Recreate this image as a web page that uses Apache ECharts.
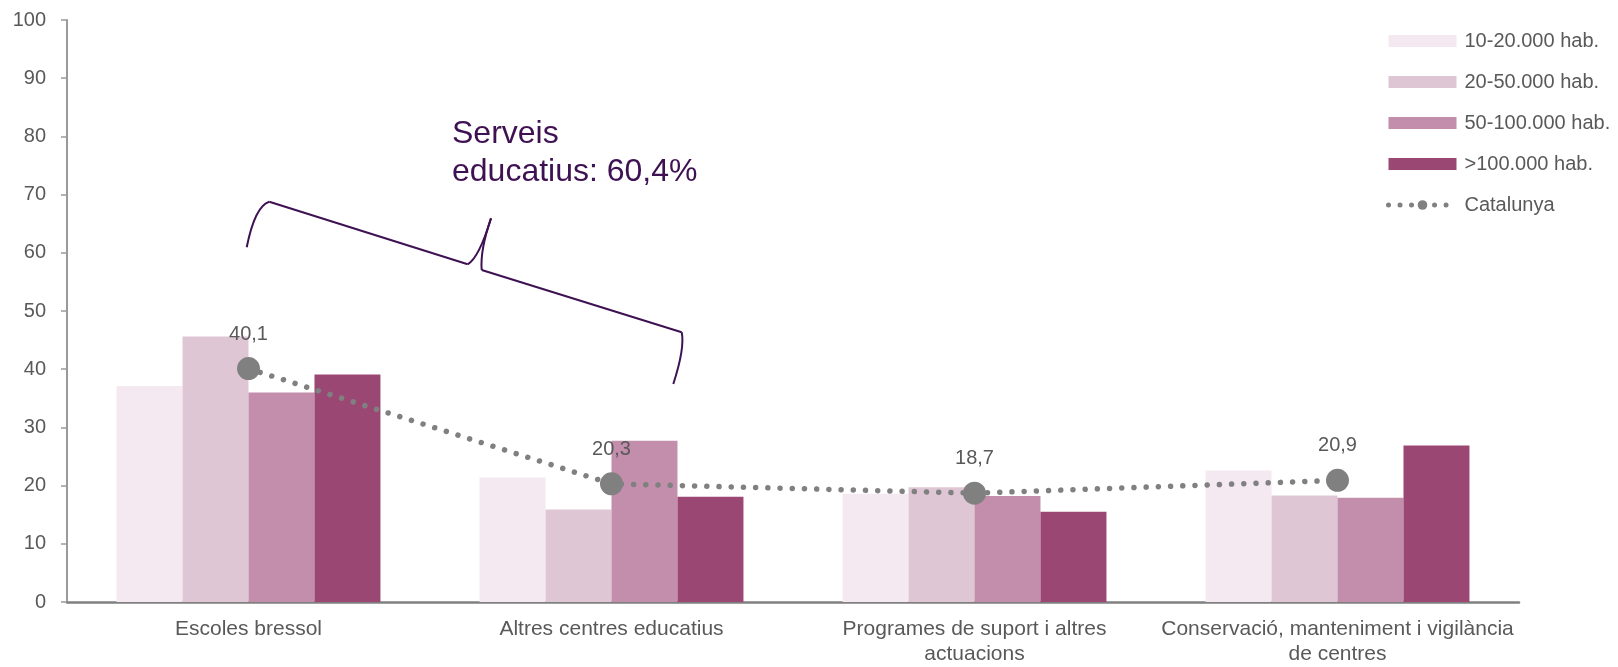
<!DOCTYPE html>
<html>
<head>
<meta charset="utf-8">
<script src="https://cdn.jsdelivr.net/npm/echarts@6/dist/echarts.min.js"></script>
<style>
  html, body { margin: 0; padding: 0; background: #fff; }
  #chart { width: 1618px; height: 667px; }
</style>
</head>
<body>
<div id="chart"></div>
<script>
// categories
var categories = [
  'Escoles bressol',
  'Altres centres educatius',
  'Programes de suport i altres\nactuacions',
  'Conservació, manteniment i vigilància\nde centres'
];
// bars per size of municipality
var hab10_20 = [37.1, 21.4, 18.6, 22.6];
var hab20_50 = [45.6, 15.9, 19.7, 18.3];
var hab50_100 = [36.0, 27.7, 18.2, 17.9];
var hab100 = [39.1, 18.1, 15.5, 26.9];
// Catalunya total
var catalunya = [40.1, 20.3, 18.7, 20.9];

var names = ['10-20.000 hab.', '20-50.000 hab.', '50-100.000 hab.', '>100.000 hab.', 'Catalunya'];
var colors = ['#f4e9f0', '#dfc6d5', '#c28eac', '#9a4873'];

var chart = echarts.init(document.getElementById('chart'));

function barSerie(i, data){
  return {
    name: names[i],
    type: 'bar',
    data: data,
    barGap: '0%',
    barCategoryGap: '27.3%',
    itemStyle: { color: colors[i] }
  };
}

// brace pieces (annotation)
var braceStyle = { stroke: '#3e1152', lineWidth: 2, fill: null };
function curve(x1, y1, cx, cy, x2, y2){
  return { type: 'bezierCurve', z: 10, shape: { x1: x1, y1: y1, cpx1: cx, cpy1: cy, x2: x2, y2: y2 }, style: braceStyle };
}
function seg(x1, y1, x2, y2){
  return { type: 'line', z: 10, shape: { x1: x1, y1: y1, x2: x2, y2: y2 }, style: braceStyle };
}

var option = {
  animation: false,
  textStyle: { fontFamily: 'Liberation Sans, Arial, sans-serif' },
  grid: { left: 67, right: 99, top: 20, bottom: 63 },
  legend: {
    orient: 'vertical',
    left: 1381,
    top: 26,
    itemWidth: 68,
    itemHeight: 12,
    itemGap: 21,
    data: [
      { name: names[0], icon: 'rect' },
      { name: names[1], icon: 'rect' },
      { name: names[2], icon: 'rect' },
      { name: names[3], icon: 'rect' },
      { name: names[4], lineStyle: { width: 5, type: [0.01, 11.5], cap: 'round', color: '#808080' } }
    ],
    textStyle: { fontSize: 20, color: '#595959', lineHeight: 20, padding: [0, 0, 0, 3] }
  },
  xAxis: {
    type: 'category',
    data: categories,
    axisLine: { lineStyle: { color: '#808080', width: 2.5 } },
    axisTick: { show: false },
    axisLabel: { fontSize: 21, color: '#595959', margin: 15, lineHeight: 25, interval: 0 }
  },
  yAxis: {
    type: 'value',
    min: 0,
    max: 100,
    interval: 10,
    splitLine: { show: false },
    axisLine: { show: true, lineStyle: { color: '#9a9a9a', width: 2 } },
    axisTick: { show: true, length: 6, lineStyle: { color: '#9a9a9a', width: 1.5 } },
    axisLabel: { fontSize: 20, color: '#595959', margin: 21 }
  },
  series: [
    barSerie(0, hab10_20),
    barSerie(1, hab20_50),
    barSerie(2, hab50_100),
    barSerie(3, hab100),
    {
      name: names[4],
      type: 'line',
      data: catalunya,
      z: 5,
      symbol: 'circle',
      symbolSize: 23,
      itemStyle: { color: '#808080' },
      lineStyle: { color: '#808080', width: 5.5, type: [0.01, 12.2], cap: 'round' },
      label: {
        show: true,
        position: 'top',
        distance: 13,
        fontSize: 20,
        color: '#595959',
        formatter: function(p){ return p.value.toFixed(1).replace('.', ','); }
      }
    }
  ],
  graphic: [
    curve(246.7, 247.3, 255, 206, 269.3, 201.7),
    seg(269.3, 201.7, 467.7, 264.3),
    curve(467.7, 264.3, 479, 258, 491, 218.3),
    curve(491, 218.3, 480, 250, 481.7, 270),
    seg(481.7, 270, 681.7, 332.3),
    curve(681.7, 332.3, 685, 348, 673.3, 384),
    {
      type: 'text',
      left: 452,
      top: 115,
      z: 10,
      style: {
        text: 'Serveis\neducatius: 60,4%',
        fill: '#3e1152',
        font: '32px "Liberation Sans", Arial, sans-serif',
        lineHeight: 38
      }
    }
  ]
};

chart.setOption(option);
</script>
</body>
</html>
